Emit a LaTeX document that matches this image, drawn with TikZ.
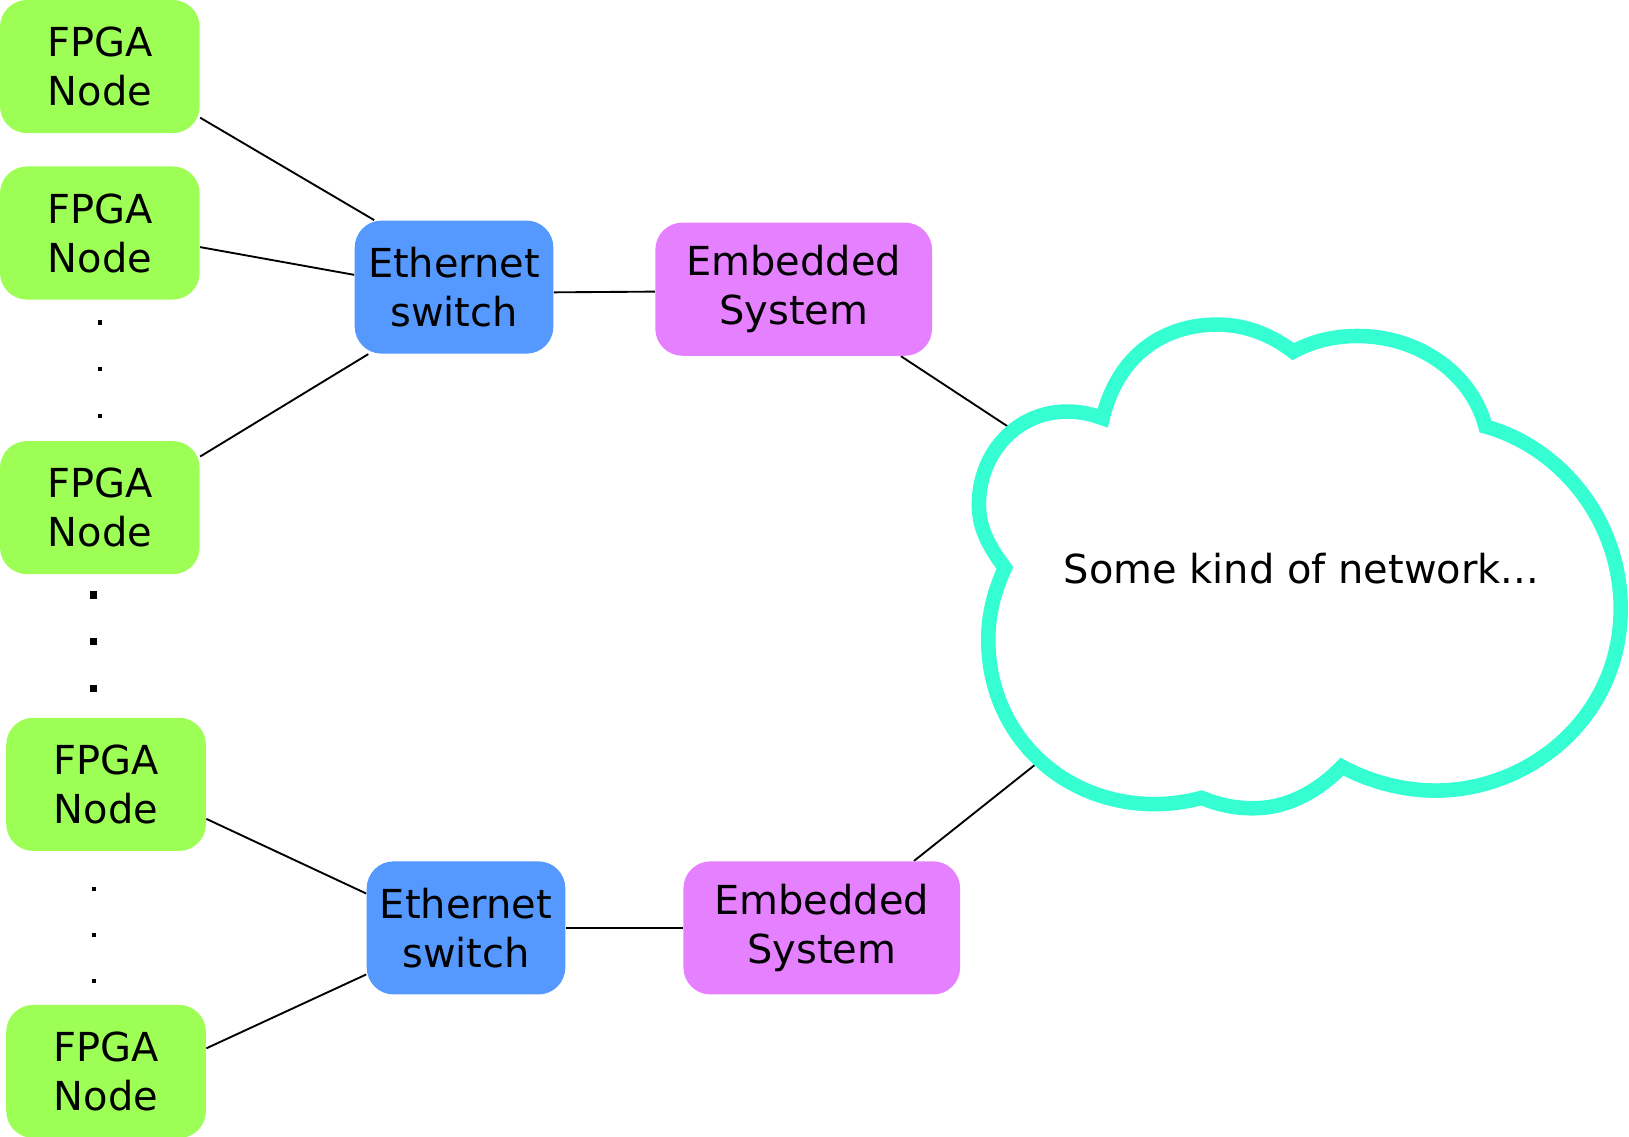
\documentclass[tikz,border=0pt]{standalone}
\usepackage{fontspec}
\setmainfont{DejaVu Sans}
\usetikzlibrary{backgrounds}
\definecolor{fpga}{HTML}{9DFF55}
\definecolor{swc}{HTML}{5599FF}
\definecolor{embc}{HTML}{E580FF}
\definecolor{cloudc}{HTML}{35FFD2}
\begin{document}
\begin{tikzpicture}[x=0.5pt,y=-0.5pt,
  box/.style={rounded corners=13pt, inner sep=0pt, align=center,
    font=\fontsize{19.2}{23.5}\selectfont, minimum height=64pt},
  fpganode/.style={box, fill=fpga, minimum width=96pt},
  swnode/.style={box, fill=swc, minimum width=95.5pt},
  embnode/.style={box, fill=embc, minimum width=133pt},
  link/.style={line width=0.9pt},
  cloudline/.style={draw=cloudc, fill=white, line width=7pt, line join=miter},
  netlabel/.style={font=\fontsize{19.2}{23.5}\selectfont, inner sep=0pt}
]
\useasboundingbox (0,0) rectangle (1566,1093);

% nodes
\node[fpganode] (f1) at (96,64) {FPGA\\Node};
\node[fpganode] (f2) at (96,224) {FPGA\\Node};
\node[fpganode] (f3) at (96,488) {FPGA\\Node};
\node[fpganode] (f4) at (102,754) {FPGA\\Node};
\node[fpganode] (f5) at (102,1030) {FPGA\\Node};
\node[swnode] (sw1) at (436.5,276) {Ethernet\\switch};
\node[swnode] (sw2) at (448,892) {Ethernet\\switch};
\node[embnode] (e1) at (763,278) {Embedded\\System};
\node[embnode] (e2) at (790,892) {Embedded\\System};

\coordinate (c1) at (978,416);
\coordinate (c2) at (1004,728);

% connectors
\begin{scope}[on background layer]
\draw[link] (f1.-27) -- (sw1.140);
\draw[link] (f2.-8.3) -- (sw1.173.4);
\draw[link] (f3.27.3) -- (sw1.218);
\draw[link] (sw1.-3.5) -- (e1.181);
\draw[link] (e1.-32) -- (c1);
\draw[link] (f4.-19.5) -- (sw2.161.6);
\draw[link] (f5.13.5) -- (sw2.205.8);
\draw[link] (sw2.0) -- (e2.180);
\draw[link] (e2.36.3) -- (c2);
\end{scope}

% cloud
\path[cloudline]
  (966,546) .. controls (948,522) and (941,505) .. (941,485)
  .. controls (941,425) and (995,378) .. (1060,402)
  .. controls (1075,340) and (1120,312) .. (1170,312)
  .. controls (1200,312) and (1225,324) .. (1243,338)
  .. controls (1262,328) and (1282,323) .. (1305,323)
  .. controls (1365,323) and (1415,360) .. (1428,410)
  .. controls (1500,430) and (1558,500) .. (1558,585)
  .. controls (1558,690) and (1470,760) .. (1380,760)
  .. controls (1350,760) and (1318,752) .. (1290,737)
  .. controls (1265,763) and (1235,777) .. (1205,777)
  .. controls (1185,777) and (1170,773) .. (1155,767)
  .. controls (1140,771) and (1125,773) .. (1110,773)
  .. controls (1020,773) and (950,705) .. (950,615)
  .. controls (950,590) and (956,568) .. cycle;
\node[netlabel] (net) at (1251,547) {Some kind of network...};

% dots
\foreach \yy in {310,355,400} \fill (94,\yy-2) rectangle +(4,4);
\foreach \yy in {572,617,662} \fill (86.5,\yy-3.5) rectangle +(7,7);
\foreach \yy in {855,899,943} \fill (88,\yy-2) rectangle +(4,4);
\end{tikzpicture}
\end{document}
